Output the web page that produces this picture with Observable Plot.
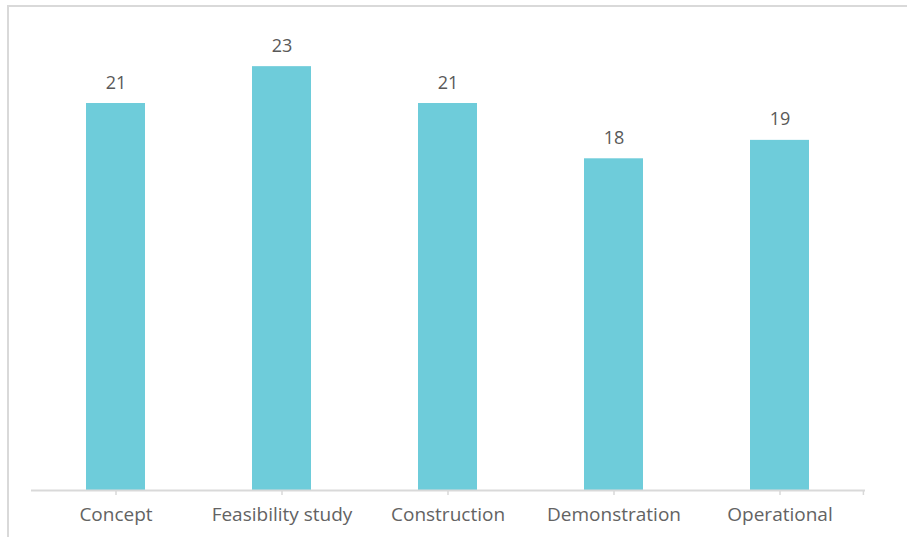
<!DOCTYPE html>
<html>
<head>
<meta charset="utf-8">
<script src="https://cdn.jsdelivr.net/npm/d3@7"></script>
<script src="https://cdn.jsdelivr.net/npm/@observablehq/plot@0.6"></script>
<style>
  html, body { margin: 0; padding: 0; background: #fff; }
  #wrap { position: relative; width: 907px; height: 537px; overflow: hidden; }
  #frame { position: absolute; left: 7px; top: 5px; width: 1000px; height: 1000px;
           border-left: 2px solid #d9d9d9; border-top: 2px solid #d9d9d9; pointer-events: none; }
</style>
</head>
<body>
<div id="wrap"><div id="frame"></div></div>
<script>
const categories = ["Concept", "Feasibility study", "Construction", "Demonstration", "Operational"];
const values = [21, 23, 21, 18, 19];

const data = categories.map((c, i) => ({category: c, value: values[i]}));
const font = "'Open Sans', sans-serif";

const chart = Plot.plot({
  width: 907,
  height: 537,
  marginLeft: 31,
  marginRight: 42,
  marginBottom: 47,
  marginTop: 29.3,
  style: {fontFamily: font, fontSize: "18px", color: "#595959", background: "transparent"},
  x: {domain: categories, paddingInner: 0.644, paddingOuter: 0.322, label: null},
  y: {domain: [0, 25], axis: null},
  marks: [
    Plot.barY(data, {x: "category", y: "value", fill: "#6ECCDA"}),
    Plot.ruleY([0], {stroke: "#d9d9d9", strokeWidth: 2}),
    Plot.axisX({tickSize: 5, tickPadding: 12, stroke: "#d9d9d9", strokeWidth: 1.5, fill: "#636363", fontSize: 19}),
    Plot.ruleX([categories[categories.length - 1]], {dx: 83.4, y1: 0, y2: -0.27, stroke: "#d9d9d9", strokeWidth: 1.5}),
    Plot.text(data, {x: "category", y: "value", text: d => String(d.value), lineAnchor: "bottom", dy: -15, fill: "#595959", fontSize: 18})
  ]
});
document.getElementById("wrap").prepend(chart);
</script>
</body>
</html>
